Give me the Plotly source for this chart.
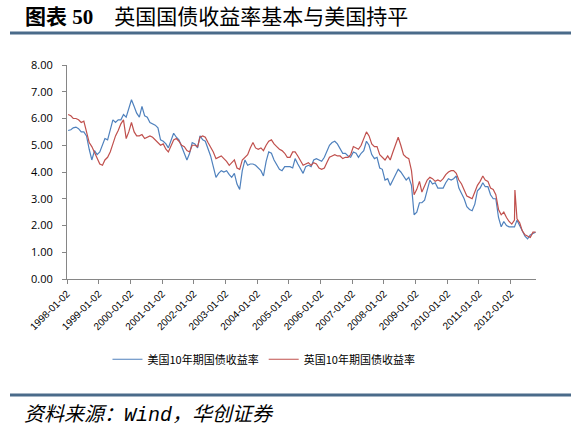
import pandas as pd
import plotly.graph_objects as go

# monthly readings of the two 10y yields, 1998-01 .. 2012-10
US_10Y = [
    5.55, 5.58, 5.65, 5.68, 5.62, 5.50, 5.50, 5.35, 4.85, 4.45, 4.80, 4.65,
    4.75, 5.00, 5.25, 5.20, 5.55, 5.95, 5.85, 5.95, 5.95, 6.15, 6.05, 6.35,
    6.70, 6.45, 6.20, 6.05, 6.45, 6.10, 6.05, 5.85, 5.80, 5.75, 5.65, 5.20,
    5.15, 5.05, 4.90, 5.20, 5.45, 5.30, 5.20, 4.95, 4.70, 4.45, 4.70, 5.10,
    5.05, 4.90, 5.35, 5.20, 5.15, 4.90, 4.60, 4.20, 3.80, 3.95, 4.05, 4.00,
    4.05, 3.90, 3.80, 3.95, 3.55, 3.35, 4.05, 4.45, 4.25, 4.30, 4.30, 4.25,
    4.15, 4.05, 3.85, 4.40, 4.75, 4.70, 4.45, 4.25, 4.10, 4.05, 4.20, 4.20,
    4.20, 4.15, 4.50, 4.30, 4.10, 3.95, 4.20, 4.25, 4.20, 4.45, 4.50, 4.45,
    4.40, 4.55, 4.75, 5.00, 5.10, 5.15, 5.05, 4.85, 4.70, 4.70, 4.60, 4.55,
    4.75, 4.70, 4.55, 4.70, 4.80, 5.15, 5.00, 4.65, 4.50, 4.55, 4.15, 4.10,
    3.70, 3.75, 3.50, 3.70, 3.90, 4.10, 4.00, 3.85, 3.70, 3.80, 3.50, 2.40,
    2.50, 2.85, 2.85, 2.95, 3.30, 3.70, 3.55, 3.60, 3.40, 3.40, 3.40, 3.60,
    3.75, 3.70, 3.75, 3.85, 3.40, 3.20, 3.00, 2.70, 2.60, 2.55, 2.80, 3.30,
    3.40, 3.60, 3.45, 3.45, 3.15, 3.00, 3.00, 2.30, 1.95, 2.15, 2.00, 1.95,
    1.95, 1.95, 2.20, 2.00, 1.75, 1.60, 1.50, 1.65, 1.70, 1.75,
]
UK_10Y = [
    6.15, 6.10, 6.00, 6.00, 5.95, 5.85, 5.90, 5.45, 5.10, 4.95, 4.75, 4.50,
    4.30, 4.25, 4.45, 4.55, 4.75, 5.05, 5.35, 5.55, 5.80, 5.95, 5.25, 5.50,
    5.85, 5.50, 5.35, 5.35, 5.40, 5.25, 5.30, 5.35, 5.30, 5.20, 5.10, 5.00,
    5.05, 4.85, 4.75, 5.00, 5.20, 5.25, 5.15, 5.00, 4.95, 4.80, 4.75, 5.00,
    5.00, 4.95, 5.30, 5.35, 5.30, 5.10, 4.95, 4.75, 4.50, 4.55, 4.60, 4.50,
    4.40, 4.25, 4.35, 4.45, 4.15, 4.10, 4.45, 4.55, 4.65, 4.90, 5.10, 4.90,
    4.85, 4.90, 4.80, 5.00, 5.15, 5.20, 5.05, 4.95, 4.85, 4.80, 4.70, 4.55,
    4.55, 4.75, 4.75, 4.60, 4.40, 4.25, 4.30, 4.35, 4.25, 4.35, 4.30, 4.15,
    4.10, 4.15, 4.35, 4.55, 4.60, 4.65, 4.60, 4.60, 4.50, 4.55, 4.55, 4.65,
    4.95, 4.90, 4.85, 5.00, 5.25, 5.50, 5.35, 5.05, 4.95, 4.95, 4.65, 4.55,
    4.45, 4.60, 4.45, 4.75, 5.00, 5.30, 5.00, 4.65, 4.55, 4.50, 4.05, 3.15,
    3.35, 3.65, 3.25, 3.50, 3.70, 3.80, 3.75, 3.65, 3.70, 3.65, 3.75, 3.90,
    4.00, 4.05, 4.05, 3.95, 3.70, 3.55, 3.35, 3.10, 3.05, 3.00, 3.25, 3.50,
    3.65, 3.85, 3.70, 3.65, 3.40, 3.35, 3.15, 2.60, 2.40, 2.50, 2.30, 2.15,
    2.05, 2.20, 2.25, 2.10, 1.80, 1.65, 1.60, 1.55, 1.75, 1.75,
]
# one-day spike in the UK series
UK_SPIKE_DATE = "2012-02-20"
UK_SPIKE_VALUE = 3.33

TICK_YEARS = list(range(1998, 2013))
TICK_LABELS = [f"{y}-01-02" for y in TICK_YEARS]

months = pd.date_range("1998-01-01", periods=len(US_10Y), freq="MS") + pd.Timedelta(days=14)

uk = pd.Series(UK_10Y, index=months)
uk.loc[pd.Timestamp(UK_SPIKE_DATE)] = UK_SPIKE_VALUE
uk = uk.sort_index()

BLUE = "#4F81BD"
RED = "#C0504D"
RULE = "#4A6B8A"
AXIS = "#868686"

fig = go.Figure()
fig.add_trace(go.Scatter(x=months, y=US_10Y, mode="lines", name="美国10年期国债收益率",
                         line=dict(color=BLUE, width=1.2)))
fig.add_trace(go.Scatter(x=uk.index, y=uk.values, mode="lines", name="英国10年期国债收益率",
                         line=dict(color=RED, width=1.2)))

fig.update_layout(
    width=571, height=428,
    margin=dict(l=67, r=35, t=65, b=149),
    paper_bgcolor="white", plot_bgcolor="white",
    font=dict(family="Liberation Sans", size=10, color="#000000"),
    xaxis=dict(
        type="date",
        range=["1998-01-02", "2012-10-20"],
        tickvals=[f"{y}-01-02" for y in TICK_YEARS],
        ticktext=TICK_LABELS,
        tickangle=-45,
        ticks="outside", ticklen=4, tickcolor=AXIS,
        showline=True, linecolor=AXIS, linewidth=1,
        showgrid=False, zeroline=False,
        tickfont=dict(size=10),
    ),
    yaxis=dict(
        range=[0, 8], dtick=1, tickformat=".2f",
        ticks="outside", ticklen=4, tickcolor=AXIS,
        showline=True, linecolor=AXIS, linewidth=1,
        showgrid=False, zeroline=False,
        ticklabelstandoff=7,
        tickfont=dict(family="Open Sans", size=11),
    ),
    legend=dict(
        orientation="h", x=0.42, y=-0.375, xanchor="center", yanchor="middle",
        font=dict(family="Noto Sans CJK SC", size=11),
        itemwidth=30, tracegroupgap=0,
    ),
    showlegend=True,
)

# title, rules and source note around the chart
fig.add_annotation(
    text="<b>图表 50</b>    英国国债收益率基本与美国持平",
    xref="paper", yref="paper", x=(24 - 67) / 469, y=(279 - 17) / 214,
    xanchor="left", yanchor="middle", showarrow=False, borderpad=0,
    font=dict(family="Liberation Serif, Noto Sans CJK SC", size=21, color="#000000"),
)
fig.add_annotation(
    text="资料来源：<span style='font-family:Liberation Mono'>Wind</span>，华创证券",
    xref="paper", yref="paper", x=(23 - 67) / 469, y=(279 - 412) / 214,
    xanchor="left", yanchor="middle", showarrow=False, borderpad=0,
    font=dict(family="Noto Sans CJK SC", size=20, color="#000000", style="italic"),
)
for ypx in (33, 395):
    fig.add_shape(
        type="line", xref="paper", yref="paper",
        x0=(10 - 67) / 469, x1=(575 - 67) / 469,
        y0=(279 - ypx) / 214, y1=(279 - ypx) / 214,
        line=dict(color=RULE, width=3),
    )

# drop the default page margin so the figure sits at the window's corner
fig.write_html("out.html", config={"displayModeBar": False},
               post_script="document.body.style.margin='0';")
